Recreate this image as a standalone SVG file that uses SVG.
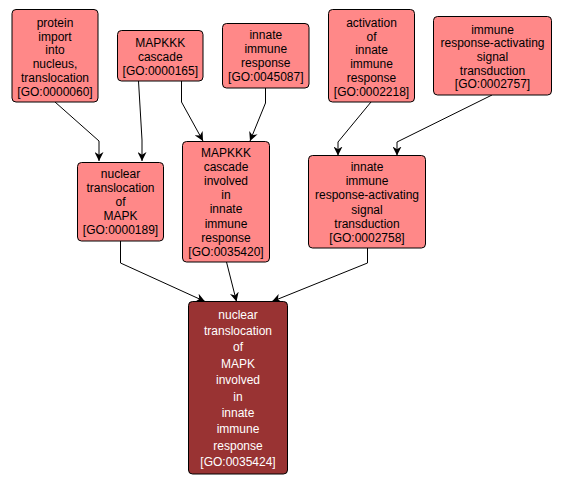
<svg xmlns="http://www.w3.org/2000/svg" width="563" height="485" viewBox="0 0 563 485">
<defs>
<style>
.n rect{fill:#ff8888;stroke:#000;stroke-width:1}
.t rect{fill:#993333;stroke:#000;stroke-width:1}
text{font-family:"Liberation Sans",Arial,sans-serif;font-size:12px;text-anchor:middle;fill:#000}
.t text{fill:#fff}
.e path{fill:none;stroke:#000;stroke-width:1;marker-end:url(#ah)}
</style>
<marker id="ah" viewBox="0 0 10 10" refX="10" refY="5" markerWidth="9" markerHeight="9" markerUnits="userSpaceOnUse" orient="auto">
<path d="M0,0 L10,5 L0,10 L3,5 Z" fill="#000"/>
</marker>
</defs>
<rect width="563" height="485" fill="#fff"/>
<g class="e" id="edges">
<path d="M55,102 L99,141 L99,161"/>
<path d="M138.5,81 L142,140 L142,161"/>
<path d="M181.5,81 L181.5,102 L203,141"/>
<path d="M265.5,88 L265.5,103 L250,141"/>
<path d="M371,102 L338,142 L338,155.5"/>
<path d="M492,95 L397,142 L397,155.5"/>
<path d="M120.5,241 L120.5,263 L205,301.5"/>
<path d="M226.5,262 L236.5,301.5"/>
<path d="M367.5,248 L367.5,263 L272,301.5"/>
</g>
<g class="n" id="GO0000060">
<rect x="12" y="9.5" width="86" height="92.5" rx="4"/>
<text x="55" y="27">protein</text><text x="55" y="40.7">import</text><text x="55" y="54.4">into</text><text x="55" y="68.1">nucleus,</text><text x="55" y="81.8">translocation</text><text x="55" y="95.5">[GO:0000060]</text>
</g>
<g class="n" id="GO0000165">
<rect x="117.5" y="30.5" width="85.5" height="50.5" rx="4"/>
<text x="160.3" y="47">MAPKKK</text><text x="160.3" y="61">cascade</text><text x="160.3" y="75">[GO:0000165]</text>
</g>
<g class="n" id="GO0045087">
<rect x="222.5" y="23.5" width="86.5" height="64.5" rx="4"/>
<text x="265.8" y="39">innate</text><text x="265.8" y="53.1">immune</text><text x="265.8" y="67.2">response</text><text x="265.8" y="81.3">[GO:0045087]</text>
</g>
<g class="n" id="GO0002218">
<rect x="328.5" y="9.5" width="86" height="92.5" rx="4"/>
<text x="371.5" y="27">activation</text><text x="371.5" y="40.7">of</text><text x="371.5" y="54.4">innate</text><text x="371.5" y="68.1">immune</text><text x="371.5" y="81.8">response</text><text x="371.5" y="95.5">[GO:0002218]</text>
</g>
<g class="n" id="GO0002757">
<rect x="433.5" y="16.5" width="118" height="78.5" rx="4"/>
<text x="492.5" y="33.5">immune</text><text x="492.5" y="47.2">response-activating</text><text x="492.5" y="60.9">signal</text><text x="492.5" y="74.6">transduction</text><text x="492.5" y="88.3">[GO:0002757]</text>
</g>
<g class="n" id="GO0000189">
<rect x="77.5" y="162.5" width="86" height="78.5" rx="4"/>
<text x="120.5" y="177.5">nuclear</text><text x="120.5" y="191.7">translocation</text><text x="120.5" y="205.9">of</text><text x="120.5" y="220.1">MAPK</text><text x="120.5" y="234.3">[GO:0000189]</text>
</g>
<g class="n" id="GO0035420">
<rect x="182.5" y="141.5" width="87" height="120.5" rx="4"/>
<text x="226" y="157">MAPKKK</text><text x="226" y="171.1">cascade</text><text x="226" y="185.2">involved</text><text x="226" y="199.3">in</text><text x="226" y="213.4">innate</text><text x="226" y="227.5">immune</text><text x="226" y="241.6">response</text><text x="226" y="255.7">[GO:0035420]</text>
</g>
<g class="n" id="GO0002758">
<rect x="308.5" y="155.5" width="117" height="92.5" rx="4"/>
<text x="367" y="171">innate</text><text x="367" y="185.2">immune</text><text x="367" y="199.4">response-activating</text><text x="367" y="213.6">signal</text><text x="367" y="227.8">transduction</text><text x="367" y="242">[GO:0002758]</text>
</g>
<g class="t" id="GO0035424">
<rect x="188.5" y="301.5" width="99" height="172.5" rx="4"/>
<text x="238" y="318.5">nuclear</text><text x="238" y="334.9">translocation</text><text x="238" y="351.3">of</text><text x="238" y="367.7">MAPK</text><text x="238" y="384.1">involved</text><text x="238" y="400.5">in</text><text x="238" y="416.9">innate</text><text x="238" y="433.3">immune</text><text x="238" y="449.7">response</text><text x="238" y="466.1">[GO:0035424]</text>
</g>
</svg>
